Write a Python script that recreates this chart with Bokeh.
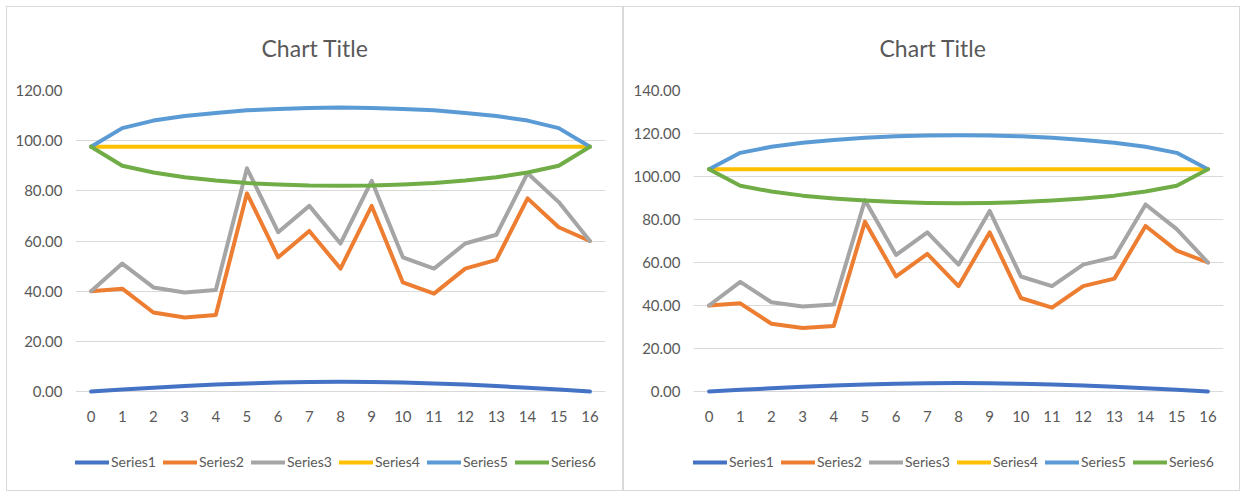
from bokeh.plotting import figure
from bokeh.models import Legend, LegendItem, FixedTicker, NumeralTickFormatter, Range1d, Title
from bokeh.layouts import row
from bokeh.embed import file_html
from bokeh.resources import INLINE

# ---------------- data ----------------
x = list(range(17))
series_names = ["Series1", "Series2", "Series3", "Series4", "Series5", "Series6"]
colors = ["#4472C4", "#ED7D31", "#A5A5A5", "#FFC000", "#5B9BD5", "#70AD47"]

series1 = [0.0, 0.8, 1.5, 2.2, 2.8, 3.2, 3.6, 3.8, 3.9, 3.8, 3.6, 3.2, 2.8, 2.2, 1.5, 0.8, 0.0]
series2 = [40.0, 41.0, 31.5, 29.5, 30.5, 79.0, 53.5, 64.0, 49.0, 74.0, 43.5, 39.0, 49.0, 52.5, 77.0, 65.5, 60.0]
series3 = [40.0, 51.0, 41.5, 39.5, 40.5, 89.0, 63.5, 74.0, 59.0, 84.0, 53.5, 49.0, 59.0, 62.5, 87.0, 75.5, 60.0]

left_series4 = [97.6, 97.6, 97.6, 97.6, 97.6, 97.6, 97.6, 97.6, 97.6, 97.6, 97.6, 97.6, 97.6, 97.6, 97.6, 97.6, 97.6]
left_series5 = [97.6, 105.0, 108.0, 109.8, 111.0, 112.1, 112.6, 113.0, 113.2, 113.0, 112.6, 112.1, 111.0, 109.8, 108.0, 105.0, 97.6]
left_series6 = [97.6, 90.0, 87.3, 85.4, 84.1, 83.1, 82.5, 82.1, 82.0, 82.1, 82.5, 83.1, 84.1, 85.4, 87.3, 90.0, 97.6]

right_series4 = [103.4, 103.4, 103.4, 103.4, 103.4, 103.4, 103.4, 103.4, 103.4, 103.4, 103.4, 103.4, 103.4, 103.4, 103.4, 103.4, 103.4]
right_series5 = [103.4, 111.0, 113.8, 115.7, 117.0, 118.0, 118.7, 119.1, 119.2, 119.1, 118.7, 118.0, 117.0, 115.7, 113.8, 111.0, 103.4]
right_series6 = [103.4, 95.7, 93.0, 91.1, 89.8, 88.8, 88.1, 87.7, 87.6, 87.7, 88.1, 88.8, 89.8, 91.1, 93.0, 95.7, 103.4]

left_yticks = [0, 20, 40, 60, 80, 100, 120]
right_yticks = [0, 20, 40, 60, 80, 100, 120, 140]

title_text = "Chart Title"
FONT = "Lato"
TEXT_COLOR = "#595959"
GRID_COLOR = "#d9d9d9"

# the plotting frame reaches down to the legend; 301 px hold the tick span
FRAME_PX = 397
TICK_PX = 301


def make_chart(all_series, yticks, min_left, min_right, margin):
    span = yticks[-1] - yticks[0]
    y_start = yticks[-1] - span * FRAME_PX / TICK_PX
    p = figure(width=617, height=485,
               x_range=Range1d(-0.5, 16.5), y_range=Range1d(y_start, yticks[-1]),
               output_backend="svg", toolbar_location=None,
               min_border_left=min_left, min_border_right=min_right,
               min_border_top=83, min_border_bottom=5,
               background_fill_color="white", border_fill_color="white")
    p.margin = margin
    p.styles = {"border": "1px solid #d9d9d9"}
    p.outline_line_color = None

    p.title = Title(text=title_text, align="left", offset=186, standoff=53,
                    vertical_align="top",
                    text_font=FONT, text_font_size="23px", text_font_style="normal",
                    text_color=TEXT_COLOR)

    p.xgrid.visible = False
    p.ygrid.grid_line_color = GRID_COLOR
    p.ygrid.grid_line_width = 1

    p.xaxis.ticker = FixedTicker(ticks=x)
    p.xaxis.fixed_location = 0
    p.yaxis.ticker = FixedTicker(ticks=yticks)
    p.yaxis.formatter = NumeralTickFormatter(format="0.00")
    for ax in (p.xaxis, p.yaxis):
        ax.axis_line_color = None
        ax.major_tick_line_color = None
        ax.minor_tick_line_color = None
        ax.major_tick_out = 0
        ax.major_tick_in = 0
        ax.major_label_text_font = FONT
        ax.major_label_text_font_size = "15px"
        ax.major_label_text_color = TEXT_COLOR
    p.xaxis.major_label_standoff = 19
    p.yaxis.major_label_standoff = 13

    items = []
    for name, col, ys in zip(series_names, colors, all_series):
        r = p.line(x, ys, line_color=col, line_width=4, line_join="round", line_cap="round")
        items.append(LegendItem(label=name, renderers=[r]))

    legend = Legend(items=items, orientation="horizontal", location=(0, 17),
                    glyph_width=34, glyph_height=16, label_standoff=2, spacing=7,
                    padding=0, margin=0, border_line_color=None, background_fill_alpha=0,
                    label_text_font=FONT, label_text_font_size="14px",
                    label_text_color=TEXT_COLOR)
    p.add_layout(legend)
    return p


p1 = make_chart([series1, series2, series3, left_series4, left_series5, left_series6],
                left_yticks, 68, 19, (6, 0, 0, 6))
p2 = make_chart([series1, series2, series3, right_series4, right_series5, right_series6],
                right_yticks, 69, 18, (6, 0, 0, 0))

layout = row(p1, p2)
open("out.html", "w").write(file_html(layout, INLINE))
